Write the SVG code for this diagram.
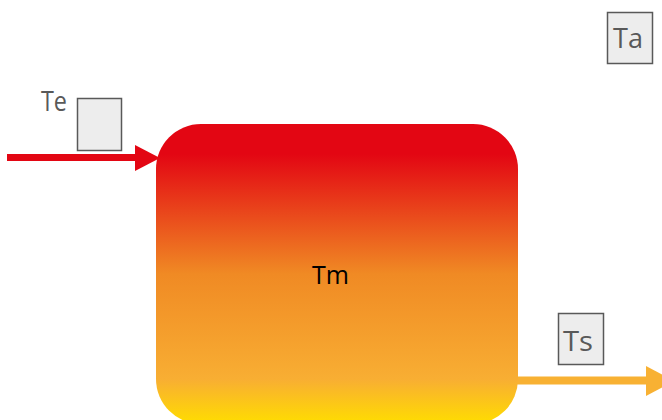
<svg xmlns="http://www.w3.org/2000/svg" width="662" height="420" viewBox="0 0 662 420">
<style>
.lbl{font-family:"Open Sans","Liberation Sans",sans-serif;font-size:28px;fill:#595959}
.box{fill:#EDEDED;stroke:#595959;stroke-width:1.5}
.main{font-family:"Open Sans","Liberation Sans",sans-serif;font-size:25px;fill:#000}
</style>
<defs>
<linearGradient id="g" x1="0" y1="124" x2="0" y2="424" gradientUnits="userSpaceOnUse">
<stop offset="0.1" stop-color="#E30613"/>
<stop offset="0.5" stop-color="#F08A24"/>
<stop offset="0.85" stop-color="#F8AE33"/>
<stop offset="1" stop-color="#FFDD00"/>
</linearGradient>
</defs>
<g id="connectors">
<line x1="7" y1="157.5" x2="140" y2="157.5" stroke="#E30613" stroke-width="7"/>
<polygon points="135,145 160,158 135,171" fill="#E30613"/>
<line x1="516" y1="380.5" x2="650" y2="380.5" stroke="#F8B133" stroke-width="8"/>
<polygon points="646,366 674,381 646,396" fill="#F8B133"/>
</g>
<g id="tm">
<rect x="156" y="124" width="362" height="300" rx="45" ry="45" fill="url(#g)"/>
<text class="main" x="312" y="284" textLength="37" lengthAdjust="spacingAndGlyphs">Tm</text>
</g>
<g id="te">
<text class="lbl" x="41" y="111" textLength="26" lengthAdjust="spacingAndGlyphs">Te</text>
<rect class="box" x="77.5" y="98.5" width="44" height="52"/>
</g>
<g id="ta">
<rect class="box" x="607.5" y="12.5" width="45" height="51"/>
<text class="lbl" x="613" y="48" textLength="30" lengthAdjust="spacingAndGlyphs">Ta</text>
</g>
<g id="ts">
<rect class="box" x="558.5" y="313.5" width="45" height="51"/>
<text class="lbl" x="563" y="351" textLength="30" lengthAdjust="spacingAndGlyphs">Ts</text>
</g>
</svg>
